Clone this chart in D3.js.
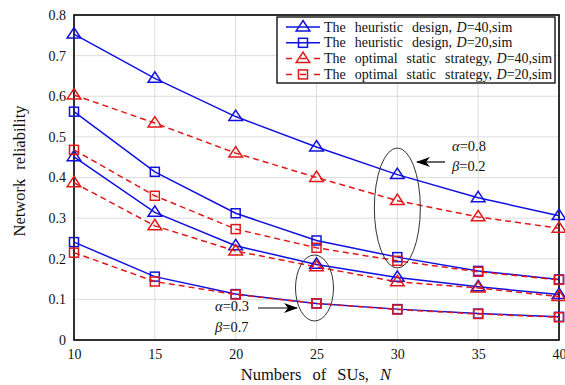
<!DOCTYPE html>
<html>
<head>
<meta charset="utf-8">
<script src="https://cdn.jsdelivr.net/npm/d3@7"></script>
<style>
  body { margin: 0; background: #fff; }
  text { font-family: "Liberation Serif", "DejaVu Serif", serif; fill: #111; }
</style>
</head>
<body>
<div id="chart"></div>
<script>
const users = [10, 15, 20, 25, 30, 35, 40];

// alpha = 0.8, beta = 0.2
const heurD40High = [0.753, 0.644, 0.550, 0.475, 0.407, 0.350, 0.306];
const optD40High = [0.603, 0.534, 0.460, 0.400, 0.343, 0.303, 0.275];
const heurD20High = [0.562, 0.414, 0.312, 0.245, 0.204, 0.170, 0.149];
const optD20High = [0.468, 0.355, 0.273, 0.227, 0.195, 0.168, 0.148];
// alpha = 0.3, beta = 0.7
const heurD40Low = [0.451, 0.314, 0.232, 0.186, 0.154, 0.131, 0.112];
const optD40Low = [0.387, 0.281, 0.219, 0.180, 0.143, 0.128, 0.107];
const heurD20Low = [0.241, 0.156, 0.113, 0.090, 0.076, 0.065, 0.057];
const optD20Low = [0.215, 0.144, 0.112, 0.090, 0.075, 0.064, 0.056];

const yTicks = [0, 0.1, 0.2, 0.3, 0.4, 0.5, 0.6, 0.7, 0.8];
const legendLabels = [
  ['The  heuristic  design, ', 'D', '=40,sim'],
  ['The  heuristic  design, ', 'D', '=20,sim'],
  ['The  optimal  static  strategy, ', 'D', '=40,sim'],
  ['The  optimal  static  strategy, ', 'D', '=20,sim']
];

const blue = '#1010e0';
const red = '#e01818';

const series = [
  { values: heurD40High, color: blue, dash: null, marker: 'tri' },
  { values: heurD20High, color: blue, dash: null, marker: 'sq' },
  { values: heurD40Low, color: blue, dash: null, marker: 'tri' },
  { values: heurD20Low, color: blue, dash: null, marker: 'sq' },
  { values: optD40High, color: red, dash: '6,4', marker: 'tri' },
  { values: optD20High, color: red, dash: '6,4', marker: 'sq' },
  { values: optD40Low, color: red, dash: '6,4', marker: 'tri' },
  { values: optD20Low, color: red, dash: '6,4', marker: 'sq' }
];

const width = 565, height = 385;
const margin = { top: 15, right: 6, bottom: 45, left: 74 };

const svg = d3.select('#chart').append('svg')
  .attr('width', width).attr('height', height);

const x = d3.scaleLinear().domain([10, 40]).range([margin.left, width - margin.right]);
const y = d3.scaleLinear().domain([0, 0.8]).range([height - margin.bottom, margin.top]);

// grid
svg.append('g').selectAll('line.gx').data(users).join('line')
  .attr('x1', d => x(d)).attr('x2', d => x(d))
  .attr('y1', y(0)).attr('y2', y(0.8))
  .attr('stroke', '#dcdcdc').attr('stroke-width', 1);
svg.append('g').selectAll('line.gy').data(yTicks).join('line')
  .attr('x1', x(10)).attr('x2', x(40))
  .attr('y1', d => y(d)).attr('y2', d => y(d))
  .attr('stroke', '#dcdcdc').attr('stroke-width', 1);

// axes
const xAxis = svg.append('g')
  .attr('transform', `translate(0,${y(0)})`)
  .call(d3.axisBottom(x).tickValues(users).tickSize(0).tickPadding(9));
const yAxis = svg.append('g')
  .attr('transform', `translate(${x(10)},0)`)
  .call(d3.axisLeft(y).tickValues(yTicks).tickSize(0).tickPadding(8)
    .tickFormat(d => d === 0 ? '0' : d3.format('.1f')(d)));
[xAxis, yAxis].forEach(a => {
  a.select('.domain').remove();
  a.selectAll('text').attr('font-size', 14).attr('fill', '#111');
});

// frame
svg.append('rect')
  .attr('x', x(10)).attr('y', y(0.8))
  .attr('width', x(40) - x(10)).attr('height', y(0) - y(0.8))
  .attr('fill', 'none').attr('stroke', '#000').attr('stroke-width', 1.6);

// lines + markers
const line = d3.line().x((d, i) => x(users[i])).y(d => y(d));

function drawMarker(g, type, cx, cy, color) {
  if (type === 'tri') {
    const s = 6.5;
    g.append('path')
      .attr('d', `M${cx},${cy - s}L${cx + s * 1.05},${cy + s * 0.6}L${cx - s * 1.05},${cy + s * 0.6}Z`)
      .attr('fill', 'none').attr('stroke', color).attr('stroke-width', 1.5);
  } else {
    const s = 4.5;
    g.append('rect')
      .attr('x', cx - s).attr('y', cy - s).attr('width', 2 * s).attr('height', 2 * s)
      .attr('fill', 'none').attr('stroke', color).attr('stroke-width', 1.5);
  }
}

const plot = svg.append('g');
series.forEach(s => {
  plot.append('path')
    .datum(s.values)
    .attr('d', line)
    .attr('fill', 'none')
    .attr('stroke', s.color)
    .attr('stroke-width', 1.5)
    .attr('stroke-dasharray', s.dash);
  const mg = plot.append('g');
  s.values.forEach((v, i) => drawMarker(mg, s.marker, x(users[i]), y(v), s.color));
});

// annotations
const defs = svg.append('defs');
defs.append('marker')
  .attr('id', 'arrow')
  .attr('viewBox', '0 -5 14 10')
  .attr('refX', 13).attr('refY', 0)
  .attr('markerWidth', 14).attr('markerHeight', 10)
  .attr('markerUnits', 'userSpaceOnUse')
  .attr('orient', 'auto')
  .append('path')
  .attr('d', 'M0,-5L14,0L0,5L4,0Z')
  .attr('fill', '#000');

svg.append('ellipse')
  .attr('cx', x(30)).attr('cy', 208).attr('rx', 23).attr('ry', 60)
  .attr('fill', 'none').attr('stroke', '#333').attr('stroke-width', 1);
svg.append('ellipse')
  .attr('cx', x(25) - 2).attr('cy', 288).attr('rx', 19).attr('ry', 33)
  .attr('fill', 'none').attr('stroke', '#333').attr('stroke-width', 1);

svg.append('line')
  .attr('x1', 445).attr('y1', 162).attr('x2', 417).attr('y2', 162)
  .attr('stroke', '#000').attr('stroke-width', 1.2).attr('marker-end', 'url(#arrow)');
svg.append('line')
  .attr('x1', 258).attr('y1', 308).attr('x2', 297).attr('y2', 308)
  .attr('stroke', '#000').attr('stroke-width', 1.2).attr('marker-end', 'url(#arrow)');

function greekLabel(gx, gy, sym, val) {
  const t = svg.append('text').attr('x', gx).attr('y', gy).attr('font-size', 14.5);
  t.append('tspan').attr('font-style', 'italic').text(sym);
  t.append('tspan').text('=' + val);
}
greekLabel(452, 151, 'α', '0.8');
greekLabel(452, 171, 'β', '0.2');
greekLabel(215, 311, 'α', '0.3');
greekLabel(215, 332, 'β', '0.7');

// axis titles
const xt = svg.append('text')
  .attr('x', 316).attr('y', 380)
  .attr('text-anchor', 'middle').attr('font-size', 16.5)
  .style('word-spacing', '7px');
xt.append('tspan').text('Numbers of SUs, ');
xt.append('tspan').attr('font-style', 'italic').text('N');

svg.append('text')
  .attr('transform', 'translate(25,171) rotate(-90)')
  .attr('text-anchor', 'middle').attr('font-size', 16.5)
  .style('word-spacing', '5px')
  .text('Network reliability');

// legend
const lg = svg.append('g');
lg.append('rect')
  .attr('x', 277).attr('y', 17).attr('width', 278).attr('height', 66)
  .attr('fill', '#fff').attr('stroke', '#000').attr('stroke-width', 1.3);
const legendItems = [
  { color: blue, dash: null, marker: 'tri' },
  { color: blue, dash: null, marker: 'sq' },
  { color: red, dash: '6,4', marker: 'tri' },
  { color: red, dash: '6,4', marker: 'sq' }
];
legendItems.forEach((it, i) => {
  const ly = 27 + i * 15.8;
  lg.append('line')
    .attr('x1', 286).attr('x2', 320).attr('y1', ly).attr('y2', ly)
    .attr('stroke', it.color).attr('stroke-width', 1.5)
    .attr('stroke-dasharray', it.dash ? '6,8' : null);
  drawMarker(lg, it.marker, 303, ly, it.color);
  const t = lg.append('text').attr('x', 324).attr('y', ly + 4.5).attr('font-size', 14)
    .style('white-space', 'pre').style('word-spacing', '1px');
  t.append('tspan').text(legendLabels[i][0]);
  t.append('tspan').attr('font-style', 'italic').text(legendLabels[i][1]);
  t.append('tspan').text(legendLabels[i][2]);
});
</script>
</body>
</html>
